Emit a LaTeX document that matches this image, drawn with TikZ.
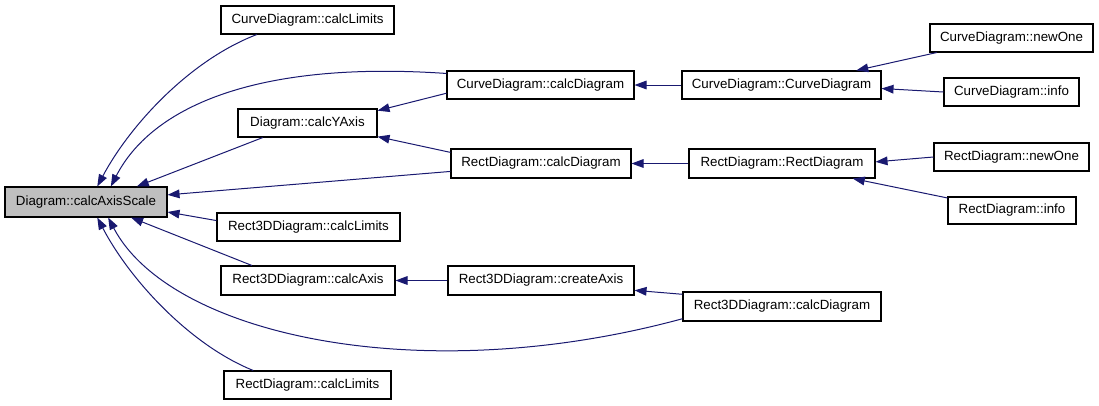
\documentclass[tikz,border=0pt]{standalone}
\usepackage{fontspec}
\setmainfont{Liberation Sans}
\usetikzlibrary{arrows.meta}
\definecolor{edgeblue}{HTML}{191970}
\definecolor{rootgray}{HTML}{BFBFBF}

\begin{document}
\begin{tikzpicture}[x=0.75pt, y=-0.75pt,
    box/.style={draw, line width=0.8pt, rectangle, inner sep=0pt,
        minimum height=28*0.75pt, font=\fontsize{10}{12}\selectfont},
    edge/.style={draw=edgeblue, line width=0.75pt, {Triangle[length=9pt, width=6.5pt]}-}]
    \useasboundingbox (0,0) rectangle (1099,405);

        % Root node
            \node[box, fill=rootgray, minimum width=162*0.75pt, minimum height=30*0.75pt] (calcAxisScale) at (86,202) {Diagram::calcAxisScale};

            % First column of callers
            \node[box, minimum width=173*0.75pt] (curveLimits) at (307.5,20) {CurveDiagram::calcLimits};
            \node[box, minimum width=139*0.75pt] (calcYAxis) at (307.5,123) {Diagram::calcYAxis};
            \node[box, minimum width=183*0.75pt] (r3dLimits) at (308.5,227) {Rect3DDiagram::calcLimits};
            \node[box, minimum width=174*0.75pt, minimum height=29*0.75pt] (r3dAxis) at (308,280.5) {Rect3DDiagram::calcAxis};
            \node[box, minimum width=167*0.75pt] (rectLimits) at (307.5,385) {RectDiagram::calcLimits};

            % Second column
            \node[box, minimum width=187*0.75pt] (curveCalc) at (540.5,85) {CurveDiagram::calcDiagram};
            \node[box, minimum width=180*0.75pt, minimum height=29*0.75pt] (rectCalc) at (541,163.5) {RectDiagram::calcDiagram};
            \node[box, minimum width=186*0.75pt, minimum height=29*0.75pt] (r3dCreateAxis) at (541,280.5) {Rect3DDiagram::createAxis};

            % Third column
            \node[box, minimum width=199*0.75pt] (curveCtor) at (781.5,85) {CurveDiagram::CurveDiagram};
            \node[box, minimum width=186*0.75pt, minimum height=29*0.75pt] (rectCtor) at (782,163.5) {RectDiagram::RectDiagram};
            \node[box, minimum width=198*0.75pt, minimum height=29*0.75pt] (r3dCalc) at (782,306.5) {Rect3DDiagram::calcDiagram};

            % Fourth column
            \node[box, minimum width=163*0.75pt] (curveNewOne) at (1011.5,38) {CurveDiagram::newOne};
            \node[box, minimum width=135*0.75pt] (curveInfo) at (1011.5,92) {CurveDiagram::info};
            \node[box, minimum width=155*0.75pt] (rectNewOne) at (1011.5,157) {RectDiagram::newOne};
            \node[box, minimum width=128*0.75pt, minimum height=27*0.75pt] (rectInfo) at (1012,210.5) {RectDiagram::info};

            % Calls into the root
            \draw[edge] (calcAxisScale.54) .. controls (130,125) and (190,60) .. (curveLimits.196);
            \draw[edge] (calcAxisScale.32) .. controls (150,110) and (250,60) .. (curveCalc.173);
            \draw[edge] (calcAxisScale.17) -- (calcYAxis.198);
            \draw[edge] (calcAxisScale.5) -- (rectCalc.185);
            \draw[edge] (calcAxisScale.-7) -- (r3dLimits.176);
            \draw[edge] (calcAxisScale.-19) -- (r3dAxis.165);
            \draw[edge] (calcAxisScale.-35) .. controls (170,335) and (420,390) .. (r3dCalc.187);
            \draw[edge] (calcAxisScale.-54) .. controls (130,280) and (190,345) .. (rectLimits.165);

            % Calls into the second level
            \draw[edge] (calcYAxis.10) -- (curveCalc.185);
            \draw[edge] (calcYAxis.-11) -- (rectCalc.173);
            \draw[edge] (curveCalc) -- (curveCtor);
            \draw[edge] (rectCalc) -- (rectCtor);
            \draw[edge] (r3dAxis) -- (r3dCreateAxis);
            \draw[edge] (r3dCreateAxis.-6) -- (r3dCalc.173);

            % Constructors and their callers
            \draw[edge] (curveCtor.11) -- (curveNewOne.191);
            \draw[edge] (curveCtor.-2) -- (curveInfo.180);
            \draw[edge] (rectCtor.1) -- (rectNewOne.180);
            \draw[edge] (rectCtor.-12) -- (rectInfo.169);
    \end{tikzpicture}
\end{document}
